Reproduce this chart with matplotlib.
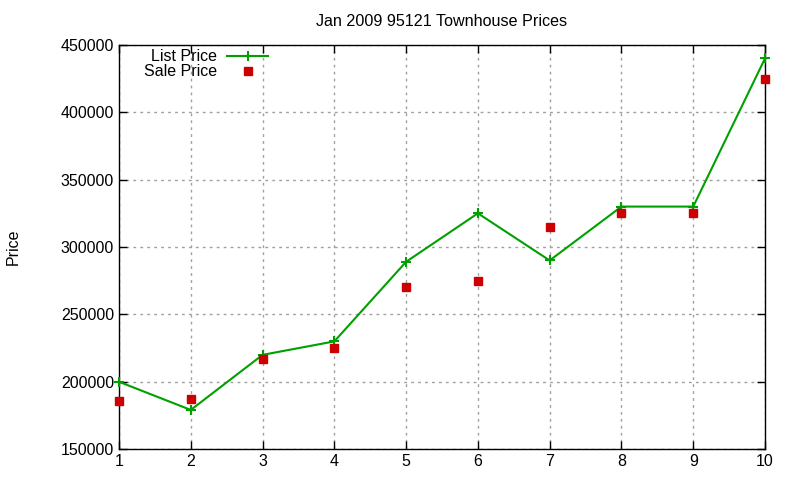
import matplotlib.pyplot as plt

plt.rcParams['font.family'] = ['Liberation Sans', 'DejaVu Sans']

# dados
casas = [1, 2, 3, 4, 5, 6, 7, 8, 9, 10]
preco_lista = [199900, 179000, 219900, 229900, 289000, 325000, 290000, 330000, 330000, 440000]
preco_venda = [185500, 187000, 217000, 225000, 270000, 275000, 315000, 325000, 325000, 425000]

COR_LISTA = "#00a000"
COR_VENDA = "#cc0000"

fig = plt.figure(figsize=(8, 4.8), dpi=100)
ax = fig.add_axes([0.14875, 0.0646, 0.8075, 0.8417])

ax.plot(casas, preco_lista, color=COR_LISTA, lw=1.5, marker='+', ms=7, mew=1.5,
        label='List Price', clip_on=False, zorder=3)
ax.plot(casas, preco_venda, ls='none', color=COR_VENDA, marker='s', ms=6.2,
        label='Sale Price', clip_on=False, zorder=4)

ax.set_xlim(1, 10)
ax.set_ylim(150000, 450000)
ax.set_xticks(casas)
ax.set_yticks(range(150000, 450001, 50000))
ax.tick_params(direction='in', top=True, right=True, labelsize=11.5, length=6, width=1)
ax.grid(True, color='#a0a0a0', ls=(0, (2, 3)), lw=1)
for lado in ax.spines.values():
    lado.set_linewidth(1)

ax.set_title("Jan 2009 95121 Townhouse Prices", fontsize=11.6, pad=14)
ax.set_ylabel("Price", fontsize=11.5, labelpad=29)

leg = ax.legend(loc='upper left', bbox_to_anchor=(0.029, 1.005), frameon=False,
                markerfirst=False, fontsize=11.5, handlelength=2.6,
                labelspacing=0.0, borderaxespad=0.0, handletextpad=0.6)

plt.savefig('out.png', dpi=100)
